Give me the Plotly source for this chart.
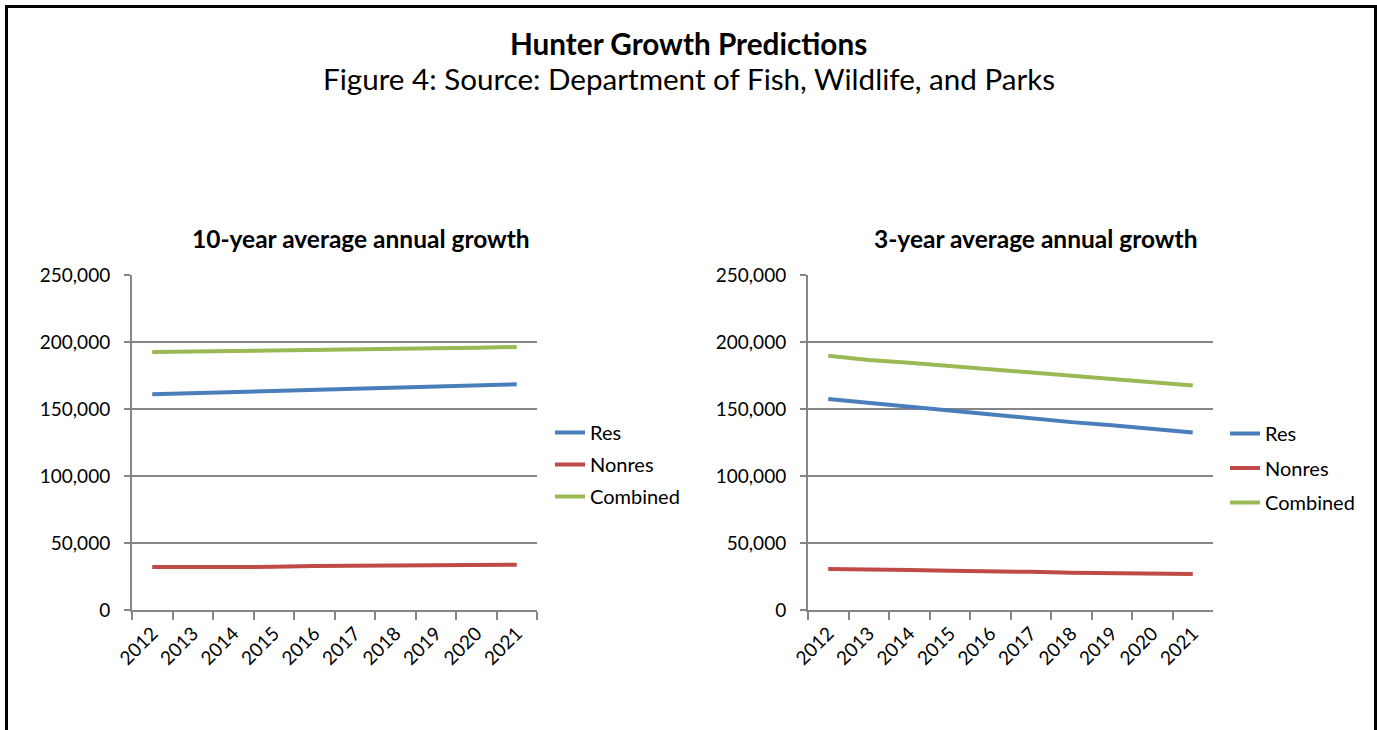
import plotly.graph_objects as go

W, H = 1377, 730

years = ["2012", "2013", "2014", "2015", "2016", "2017", "2018", "2019", "2020", "2021"]

# 10-year average annual growth
res_10 = [161000, 161800, 162500, 163200, 164000, 164700, 166000, 166800, 167600, 168500]
nonres_10 = [32000, 32000, 32100, 32200, 32800, 33000, 33000, 33000, 33600, 33800]
comb_10 = [192500, 193000, 193200, 193800, 194000, 194500, 194800, 195300, 195700, 196300]

# 3-year average annual growth
res_3 = [157500, 154500, 151500, 148500, 145500, 143000, 140200, 137800, 135000, 132500]
nonres_3 = [30600, 30500, 29800, 29200, 29000, 28500, 27800, 27600, 27000, 26900]
comb_3 = [189800, 186500, 184500, 182200, 179500, 177000, 174800, 172300, 170000, 167500]

series_names = ["Res", "Nonres", "Combined"]
colors = ["#4A7EBB", "#BE4B48", "#98B954"]

FONT = "Lato, Carlito, Calibri, sans-serif"
GRAY = "#868686"

fig = go.Figure()

for vals, name, col in zip([res_10, nonres_10, comb_10], series_names, colors):
    fig.add_trace(go.Scatter(x=years, y=vals, name=name, mode="lines",
                             line=dict(color=col, width=4),
                             xaxis="x", yaxis="y", legend="legend",
                             legendgroup="L" + name))
for vals, name, col in zip([res_3, nonres_3, comb_3], series_names, colors):
    fig.add_trace(go.Scatter(x=years, y=vals, name=name, mode="lines",
                             line=dict(color=col, width=4),
                             xaxis="x2", yaxis="y2", legend="legend2",
                             legendgroup="R" + name))

def px_x(p):
    return p / W

def px_y(p):
    return 1 - p / H

xax = dict(type="category", range=[-0.5, len(years) - 0.5],
           showline=True, linecolor=GRAY, linewidth=2,
           ticks="outside", tickson="boundaries", ticklen=8, tickcolor=GRAY, tickwidth=2,
           tickangle=-45, tickfont=dict(family=FONT, size=19, color="black"),
           ticklabelstandoff=3, ticklabelshift=0,
           showgrid=False, zeroline=False, fixedrange=True, automargin=False)
yax = dict(range=[0, 250000], dtick=50000, tickformat=",", showline=True,
           linecolor=GRAY, linewidth=2, ticks="outside", ticklen=6, tickcolor=GRAY,
           tickwidth=2, showgrid=True, gridcolor=GRAY, gridwidth=2, zeroline=False,
           tickfont=dict(family=FONT, size=19, color="black"), ticklabelstandoff=10,
           fixedrange=True, automargin=False)

y_dom = [px_y(610), px_y(275)]

fig.update_layout(
    template="none",
    width=W, height=H,
    margin=dict(l=0, r=0, t=0, b=0, pad=0),
    autosize=False,
    paper_bgcolor="white", plot_bgcolor="white",
    font=dict(family=FONT, color="black"),
    hovermode=False,
    xaxis=dict(xax, domain=[px_x(132), px_x(537)], anchor="y"),
    yaxis=dict(yax, domain=y_dom, anchor="x"),
    xaxis2=dict(xax, domain=[px_x(808), px_x(1213)], anchor="y2"),
    yaxis2=dict(yax, domain=y_dom, anchor="x2"),
    legend=dict(x=px_x(550), y=px_y(413), xanchor="left", yanchor="top",
                font=dict(family=FONT, size=20), tracegroupgap=3,
                bgcolor="rgba(0,0,0,0)", itemwidth=30),
    legend2=dict(x=px_x(1225), y=px_y(414), xanchor="left", yanchor="top",
                 font=dict(family=FONT, size=20), tracegroupgap=5.5,
                 bgcolor="rgba(0,0,0,0)", itemwidth=30),
    showlegend=True,
    annotations=[
        dict(text="<b>Hunter Growth Predictions</b>", x=0.5, y=px_y(44),
             xref="paper", yref="paper", showarrow=False,
             font=dict(family=FONT, size=29.7), xanchor="center", yanchor="middle"),
        dict(text="Figure 4: Source: Department of Fish, Wildlife, and Parks",
             x=0.5, y=px_y(79), xref="paper", yref="paper", showarrow=False,
             font=dict(family=FONT, size=29.6), xanchor="center", yanchor="middle"),
        dict(text="<b>10-year average annual growth</b>", x=px_x(361), y=px_y(238),
             xref="paper", yref="paper", showarrow=False,
             font=dict(family=FONT, size=24.5), xanchor="center", yanchor="middle"),
        dict(text="<b>3-year average annual growth</b>", x=px_x(1035), y=px_y(238),
             xref="paper", yref="paper", showarrow=False,
             font=dict(family=FONT, size=24.5), xanchor="center", yanchor="middle"),
    ],
    shapes=[
        dict(type="rect", xref="paper", yref="paper",
             x0=px_x(6.5), x1=px_x(1375.5), y0=-0.1, y1=px_y(6.5),
             line=dict(color="black", width=3), fillcolor="rgba(0,0,0,0)"),
    ],
)

fig.write_html("out.html", config={"displayModeBar": False},
               post_script="document.body.style.margin='0';document.body.style.overflow='hidden';")
